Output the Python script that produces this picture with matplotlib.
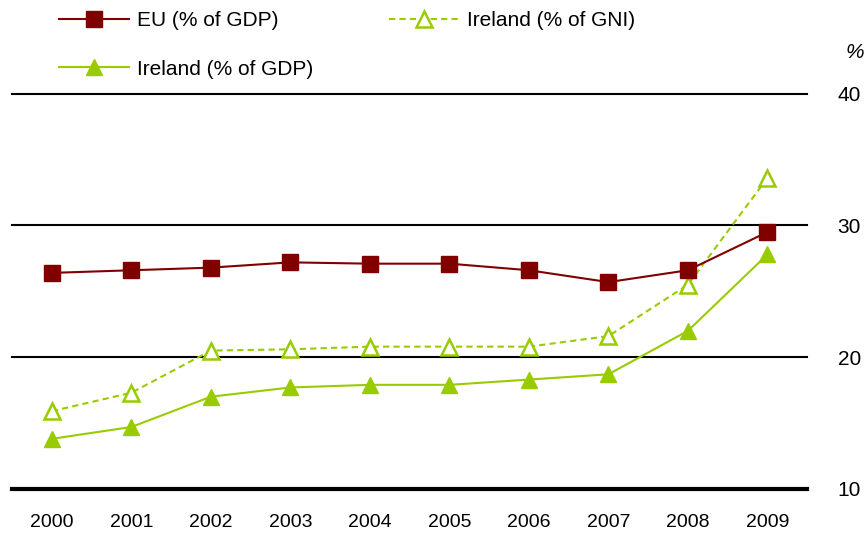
import matplotlib
matplotlib.use("Agg")
import matplotlib.pyplot as plt

plt.rcParams["font.family"] = ["Liberation Sans", "DejaVu Sans"]

years = ["2000", "2001", "2002", "2003", "2004", "2005", "2006", "2007", "2008", "2009"]
eu_gdp = [26.4, 26.6, 26.8, 27.2, 27.1, 27.1, 26.6, 25.7, 26.6, 29.5]
ireland_gni = [15.9, 17.3, 20.5, 20.6, 20.8, 20.8, 20.8, 21.6, 25.5, 33.6]
ireland_gdp = [13.8, 14.7, 17.0, 17.7, 17.9, 17.9, 18.3, 18.7, 22.0, 27.8]
y_ticks = [10, 20, 30, 40]

red = "#800000"
green = "#99cc00"

fig = plt.figure(figsize=(8.67, 5.39), dpi=100)
ax = fig.add_axes([0.014, 0.093, 0.917, 0.733])

x = list(range(len(years)))
l_eu, = ax.plot(x, eu_gdp, color=red, lw=1.5, marker="s", ms=11,
                label="EU (% of GDP)", zorder=4)
l_gdp, = ax.plot(x, ireland_gdp, color=green, lw=1.5, marker="^", ms=12,
                 label="Ireland (% of GDP)", zorder=3)
l_gni, = ax.plot(x, ireland_gni, color=green, lw=1.5, ls=(0, (3, 2)), marker="^",
                 ms=11, mfc="white", mec=green, mew=1.8,
                 label="Ireland (% of GNI)", zorder=3)

ax.set_xlim(-0.5, len(years) - 0.5)
ax.set_ylim(10, 40)
ax.set_xticks(x)
ax.set_xticklabels(years, fontsize=14)
ax.set_yticks(y_ticks)
ax.yaxis.tick_right()
ax.tick_params(axis="y", length=0, labelsize=15, pad=22)
ax.tick_params(axis="x", length=0, pad=18)

for t in y_ticks[1:]:
    ax.axhline(t, color="black", lw=1.5, zorder=1, clip_on=False)
for s in ["top", "left", "right"]:
    ax.spines[s].set_visible(False)
ax.spines["bottom"].set_linewidth(3)

fig.text(0.986, 0.9035, "%", fontsize=15, style="italic", ha="center", va="center")

fig.legend([l_eu, l_gdp, l_gni], ["EU (% of GDP)", "Ireland (% of GDP)", "Ireland (% of GNI)"],
           ncol=2, loc="upper left", bbox_to_anchor=(0.055, 1.0), frameon=False,
           fontsize=15, handlelength=3.37, handletextpad=0.38, labelspacing=1.4,
           columnspacing=3.6, borderaxespad=0.15)

fig.savefig("out.png", dpi=100)
